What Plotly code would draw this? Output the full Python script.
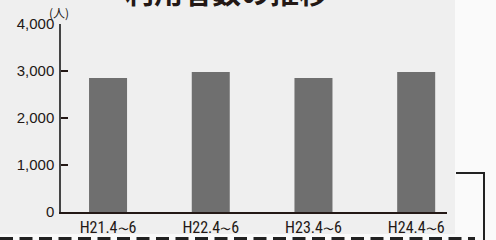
import plotly.graph_objects as go

categories = ["H21.4〜6", "H22.4〜6", "H23.4〜6", "H24.4〜6"]
values = [2850, 2980, 2850, 2980]
y_ticks = [0, 1000, 2000, 3000, 4000]
y_tick_labels = ["0", "1,000", "2,000", "3,000", "4,000"]
title_text = "利用者数の推移"
unit_text = "(人)"

W, H = 496, 240
L, R, T, B = 61, 447, 24, 212  # plot area in px

def px(x):
    return (x - L) / (R - L)

def py(y):
    return (B - y) / (B - T)

ink = "#231815"
narrow = "Roboto Condensed, Liberation Sans Narrow, DejaVu Sans Condensed, Roboto, sans-serif"

tick_text = [c.replace("〜", "<span style='font-size:11px'>〜</span>") for c in categories]

fig = go.Figure()
fig.add_trace(go.Bar(
    x=list(range(len(categories))), y=values,
    marker=dict(color="#6f6f6f", line=dict(width=0)),
    width=0.37, hoverinfo="skip",
))

fig.update_layout(
    width=W, height=H,
    margin=dict(l=L, r=W - R, t=T, b=H - B, pad=0, autoexpand=False),
    paper_bgcolor="#fafafa",
    plot_bgcolor="rgba(0,0,0,0)",
    showlegend=False,
    xaxis=dict(
        range=[-0.458, 3.3], automargin=False,
        tickmode="array", tickvals=list(range(len(categories))), ticktext=tick_text,
        showline=True, linecolor=ink, linewidth=2,
        ticks="", showgrid=False, zeroline=False,
        tickfont=dict(family=narrow, size=16, color=ink),
    ),
    yaxis=dict(
        range=[0, 4000], automargin=False,
        tickmode="array", tickvals=y_ticks, ticktext=y_tick_labels,
        showline=True, linecolor="#444444", linewidth=1.5,
        ticks="inside", ticklen=7, tickwidth=2, tickcolor=ink,
        showgrid=False, zeroline=False, ticklabelstandoff=2,
        tickfont=dict(family="Liberation Sans, Arial, sans-serif", size=15, color=ink),
    ),
    shapes=[
        dict(type="rect", xref="paper", yref="paper", layer="below",
             x0=px(-5), x1=px(455), y0=py(234), y1=py(-5),
             fillcolor="#efefef", line=dict(width=0)),
        dict(type="line", xref="paper", yref="paper",
             x0=px(0), x1=px(475), y0=py(238.5), y1=py(238.5),
             line=dict(color="#222222", width=3, dash="13px,6.5px")),
        dict(type="line", xref="paper", yref="paper",
             x0=px(456), x1=px(485), y0=py(173), y1=py(173),
             line=dict(color="#222222", width=2)),
        dict(type="line", xref="paper", yref="paper",
             x0=px(484), x1=px(484), y0=py(172), y1=py(245),
             line=dict(color="#222222", width=2)),
    ],
    annotations=[
        dict(text=title_text, xref="paper", yref="paper", x=px(226), y=py(-9),
             xanchor="center", yanchor="middle", showarrow=False,
             font=dict(family="Noto Sans CJK JP", size=29, color=ink, weight="bold")),
        dict(text=unit_text, xref="paper", yref="paper", x=px(59), y=py(12),
             xanchor="center", yanchor="middle", showarrow=False,
             font=dict(family="Noto Sans CJK JP", size=12, color=ink)),
    ],
)

fig.write_html("out.html", config={"displayModeBar": False},
               post_script="document.body.style.margin='0';")
